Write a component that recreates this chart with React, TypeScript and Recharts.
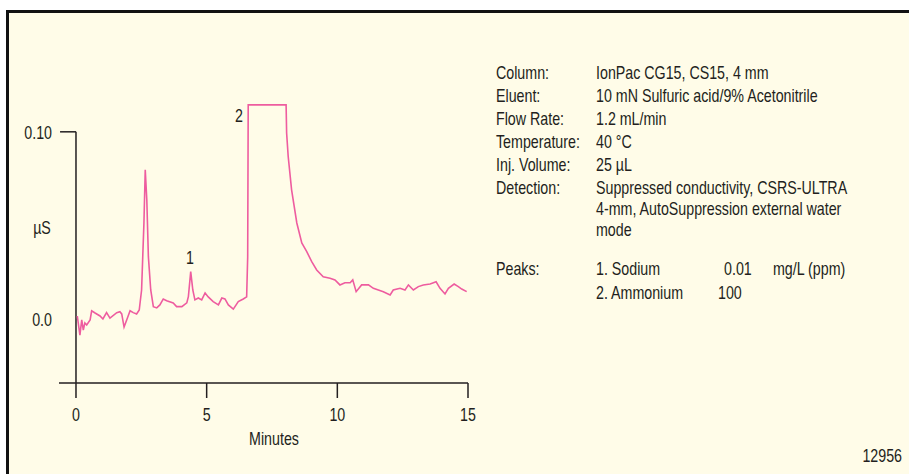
import React from 'react';
import { LineChart, Line, XAxis, YAxis, ReferenceLine, ReferenceDot } from 'recharts';

// Retention time (minutes)
const times = [
  0.05, 0.15, 0.22, 0.28, 0.34, 0.41, 0.54, 0.6, 0.73, 0.92, 1.03, 1.17, 1.3, 1.56, 1.68, 1.75, 1.84, 1.94,
  2.07, 2.19, 2.32, 2.42, 2.51, 2.6, 2.65, 2.71, 2.77, 2.86, 2.96, 3.09, 3.21, 3.34, 3.47, 3.72, 3.85,
  4.05, 4.24, 4.3, 4.39, 4.47, 4.55, 4.68, 4.81, 4.94, 5.06, 5.25, 5.45, 5.58, 5.7, 5.83, 6.02, 6.21,
  6.4, 6.53, 6.57, 6.59, 8.04, 8.06, 8.12, 8.25, 8.45, 8.64, 8.83, 9.02, 9.21, 9.46, 9.72, 9.91, 10.1,
  10.29, 10.49, 10.59, 10.72, 10.93, 11.19, 11.38, 11.57, 11.76, 12.02, 12.14, 12.4, 12.59, 12.72,
  12.91, 13.1, 13.29, 13.55, 13.78, 13.93, 14.12, 14.25, 14.47, 14.63, 14.76, 14.95,
];

// Conductivity (µS)
const signal = [
  0.0016, -0.0086, -0.0005, -0.0059, -0.0021, -0.0032, -0.0005, 0.0044, 0.0032, 0.0016, 0.0, 0.0034,
  0.0005, 0.0034, 0.0039, 0.0027, -0.0043, -0.0005, 0.0044, 0.0034, 0.0027, 0.0048, 0.0155, 0.0513,
  0.0797, 0.0636, 0.0333, 0.0155, 0.0066, 0.0059, 0.0075, 0.0107, 0.0098, 0.0086, 0.0066, 0.0066,
  0.0086, 0.0119, 0.0253, 0.0155, 0.0102, 0.0112, 0.0102, 0.0139, 0.0118, 0.0093, 0.0075, 0.0112,
  0.0107, 0.0075, 0.0053, 0.0093, 0.0107, 0.0118, 0.0333, 0.1144, 0.1144, 0.0993, 0.0868, 0.069,
  0.0513, 0.0406, 0.036, 0.0306, 0.0262, 0.0226, 0.0218, 0.0209, 0.0182, 0.0194, 0.0194, 0.0209,
  0.0146, 0.0182, 0.0182, 0.0164, 0.0155, 0.0146, 0.0128, 0.0155, 0.0164, 0.0155, 0.0182, 0.0155,
  0.0173, 0.0182, 0.0187, 0.0199, 0.0164, 0.0134, 0.0164, 0.0187, 0.0173, 0.016, 0.0146,
];

const xTicks = [0, 5, 10, 15];
const yTicks = [0, 0.1];
const yTickLabels: Record<string, string> = { '0': '0.0', '0.1': '0.10' };

const peakTimes = [4.36, 6.24];
const peakLabelValues = [0.0332, 0.1091];
const peakNames = ['1', '2'];

const conditionLabels = ['Column:', 'Eluent:', 'Flow Rate:', 'Temperature:', 'Inj. Volume:', 'Detection:', '', '', 'Peaks:', ''];
const conditionValues = [
  'IonPac CG15, CS15, 4 mm',
  '10 mN Sulfuric acid/9% Acetonitrile',
  '1.2 mL/min',
  '40 °C',
  '25 µL',
  'Suppressed conductivity, CSRS-ULTRA',
  '4-mm, AutoSuppression external water',
  'mode',
  '1. Sodium',
  '2. Ammonium',
];
const peakAmounts = ['0.01', '100'];
const amountUnit = 'mg/L (ppm)';

const data = times.map((t, i) => ({ t, v: signal[i] }));

const FONT = "'Liberation Sans', Arial, sans-serif";
const INK = '#231f20';
const PINK = '#ee5c9f';

const CText = ({ x, y, anchor = 'start', children }: any) => (
  <text
    transform={`translate(${x} ${y}) scale(0.75 1)`}
    textAnchor={anchor}
    fontSize={19}
    fontFamily={FONT}
    fill={INK}
  >
    {children}
  </text>
);

const XTick = (props: any) => {
  const { x, y, payload } = props;
  return <CText x={x} y={y + 21} anchor="middle">{payload.value}</CText>;
};

const YTick = (props: any) => {
  const { x, y, payload } = props;
  return <CText x={x} y={y + 6.8} anchor="end">{yTickLabels[String(payload.value)]}</CText>;
};

const PeakLabel = (name: string) => (props: any) => (
  <CText x={props.cx} y={props.cy + 6.8} anchor="middle">{name}</CText>
);

const rowBaselines = [79, 102, 125, 148, 170.5, 193.5, 214.5, 236, 275, 299];

export default function App() {
  return (
    <div style={{ position: 'absolute', left: 0, top: 0, width: 909, height: 474, background: '#ffffff', overflow: 'hidden' }}>
      <div
        style={{
          position: 'absolute',
          left: 6,
          top: 10,
          width: 920,
          height: 480,
          borderLeft: '3px solid #111',
          borderTop: '3px solid #111',
          background: '#fffce8',
        }}
      />
      <div style={{ position: 'absolute', left: 0, top: 0 }}>
        <LineChart width={909} height={474} data={data} margin={{ top: 100, right: 441, bottom: 61, left: 0 }}>
          <XAxis
            dataKey="t"
            type="number"
            domain={[-0.65, 15]}
            allowDataOverflow
            ticks={xTicks}
            interval={0}
            height={30}
            tickSize={15}
            tickMargin={2}
            axisLine={{ stroke: INK, strokeWidth: 1.5 }}
            tickLine={{ stroke: INK, strokeWidth: 1.5 }}
            tick={<XTick />}
          />
          <YAxis
            type="number"
            domain={[-0.0342, 0.117]}
            allowDataOverflow
            ticks={yTicks}
            interval={0}
            width={59}
            tickSize={6}
            tickMargin={1}
            axisLine={false}
            tickLine={false}
            tick={<YTick />}
          />
          <ReferenceLine
            segment={[{ x: 0, y: -0.0342 }, { x: 0, y: 0.1 }]}
            stroke={INK}
            strokeWidth={1.5}
            ifOverflow="visible"
          />
          <ReferenceLine
            segment={[{ x: -0.61, y: 0.1 }, { x: 0, y: 0.1 }]}
            stroke={INK}
            strokeWidth={1.5}
            ifOverflow="visible"
          />
          <Line
            dataKey="v"
            type="linear"
            stroke={PINK}
            strokeWidth={1.6}
            dot={false}
            isAnimationActive={false}
          />
          {peakTimes.map((t, i) => (
            <ReferenceDot
              key={peakNames[i]}
              x={t}
              y={peakLabelValues[i]}
              r={0}
              ifOverflow="visible"
              shape={PeakLabel(peakNames[i])}
            />
          ))}
        </LineChart>
      </div>
      <svg width={909} height={474} style={{ position: 'absolute', left: 0, top: 0, pointerEvents: 'none' }}>
        <CText x={42} y={233.5} anchor="middle">µS</CText>
        <CText x={274} y={444.5} anchor="middle">Minutes</CText>
        <CText x={902} y={461.5} anchor="end">12956</CText>
        {conditionLabels.map((l, i) => (
          <CText key={'l' + i} x={496} y={rowBaselines[i]}>{l}</CText>
        ))}
        {conditionValues.map((v, i) => (
          <CText key={'v' + i} x={596} y={rowBaselines[i]}>{v}</CText>
        ))}
        <CText x={724} y={rowBaselines[8]}>{peakAmounts[0]}</CText>
        <CText x={773} y={rowBaselines[8]}>{amountUnit}</CText>
        <CText x={718} y={rowBaselines[9]}>{peakAmounts[1]}</CText>
      </svg>
    </div>
  );
}
